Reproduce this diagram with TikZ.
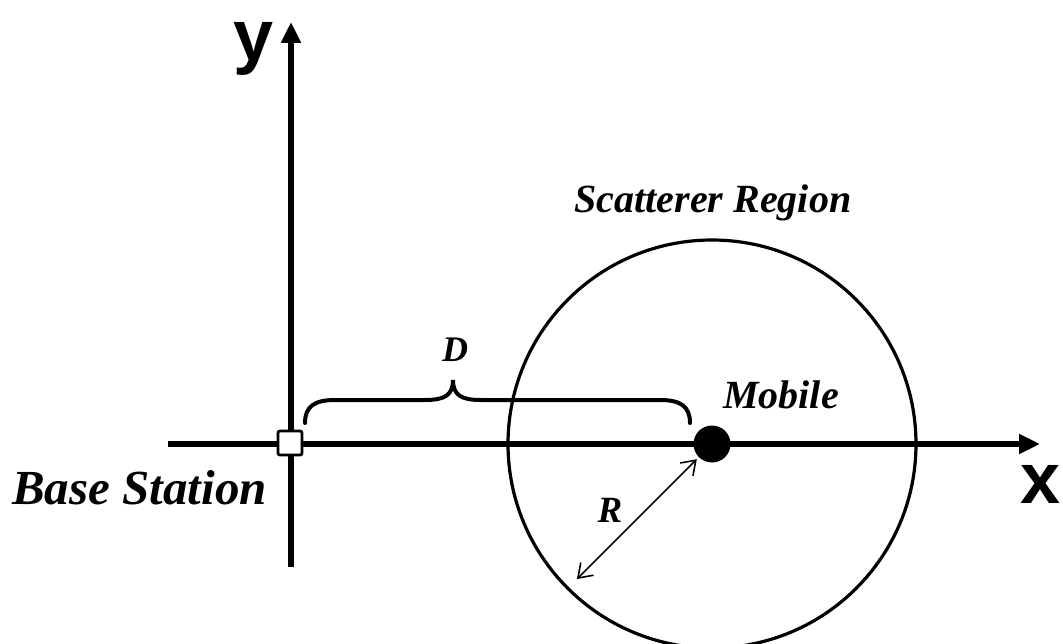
\documentclass[tikz,border=0pt]{standalone}
\usepackage{fontspec}
\setmainfont{Liberation Serif}
\newfontfamily\axfont{Liberation Sans}
\usetikzlibrary{arrows.meta}
\begin{document}
\begin{tikzpicture}[x=1pt,y=-1pt,
  axis/.style={line width=6.5pt, -{Triangle[length=21pt,width=19pt]}},
  lbl/.style={inner sep=0pt, font=\bfseries\itshape\fontsize{#1}{#1}\selectfont},
  axlbl/.style={inner sep=0pt, font=\axfont\bfseries\fontsize{72}{76}\selectfont},
  barb/.tip={Straight Barb[length=13pt,width=18pt]},
]
\useasboundingbox (0,0) rectangle (1063,644);
% axes
\coordinate (xs) at (168,444);
\coordinate (xe) at (1040,444);
\coordinate (ys) at (291,567);
\coordinate (ye) at (291,22);
\draw[axis] (xs) -- (xe);
\draw[axis] (ys) -- (ye);
% scatterer region
\node[circle, draw, line width=3.2pt, minimum size=408pt, inner sep=0pt, outer sep=0pt] (scat) at (712,444) {};
% base station and mobile
\node[draw, fill=white, line width=2.8pt, minimum size=24pt, inner sep=0pt, rounded corners=2pt] (bs) at (290,443) {};
\node[circle, fill=black, minimum size=37pt, inner sep=0pt, outer sep=0pt] (mob) at (712,444) {};
% radius arrow
\draw[line width=1.6pt, barb-barb, shorten <=13pt, shorten >=3pt] (scat.225) -- (mob.225);
% brace
\draw[line width=4pt, line cap=round]
  (305,423) .. controls (305,406) and (315,400) .. (335,400) -- (425,400)
  .. controls (445,400) and (453,395) .. (453,380)
  .. controls (453,395) and (461,400) .. (481,400) -- (660,400)
  .. controls (680,400) and (690,406) .. (690,423);
% labels
\node[axlbl] (ylab) at (254,49) {y};
\node[axlbl] (xlab) at (1041,484) {x};
\node[lbl=49, anchor=base west] (bslab) at (12,504) {Base Station};
\node[lbl=40, anchor=base] (sclab) at (713,213) {Scatterer Region};
\node[lbl=40, anchor=base] (moblab) at (781,408) {Mobile};
\node[lbl=37, anchor=base] (rlab) at (610,522) {R};
\node[lbl=36, anchor=base] (dlab) at (455,362) {D};
\end{tikzpicture}
\end{document}
